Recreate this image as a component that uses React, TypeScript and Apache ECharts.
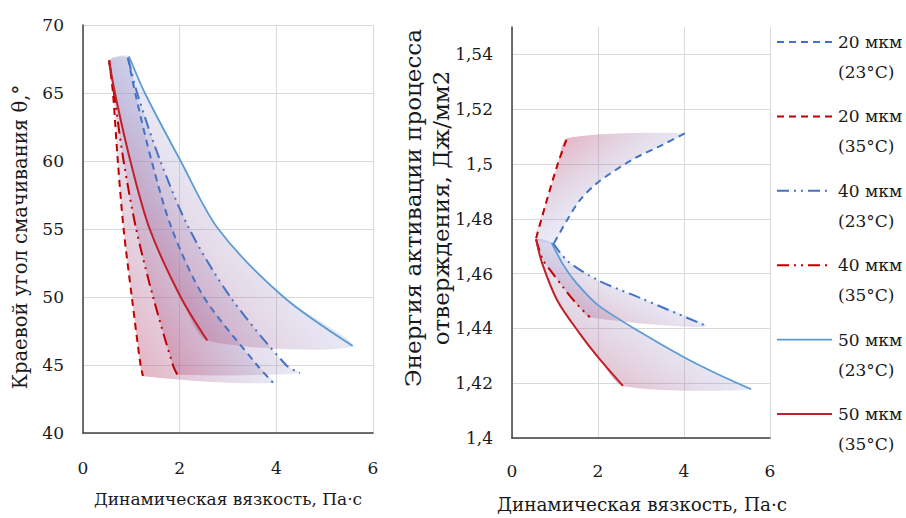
import React, { useEffect, useRef } from 'react';
import * as echarts from 'echarts';

// ---------- tick values ----------
const X_TICKS = [0, 2, 4, 6];
const THETA_TICKS = [40, 45, 50, 55, 60, 65, 70];
const ENERGY_TICKS = [1.4, 1.42, 1.44, 1.46, 1.48, 1.5, 1.52, 1.54];
const ENERGY_TOP = 1.55;

// ---------- series names / legend ----------
const SERIES_NAMES = ['20 мкм (23°C)', '20 мкм (35°C)', '40 мкм (23°C)', '40 мкм (35°C)', '50 мкм (23°C)', '50 мкм (35°C)'];
const LEGEND_LINE1 = ['20 мкм', '20 мкм', '40 мкм', '40 мкм', '50 мкм', '50 мкм'];
const LEGEND_LINE2 = ['(23°C)', '(35°C)', '(23°C)', '(35°C)', '(23°C)', '(35°C)'];

// ---------- left chart: contact angle θ vs viscosity ----------
const thetaX_20_23 = [0.93, 1.08, 1.42, 1.84, 2.5, 3.6, 3.93];
const thetaY_20_23 = [67.6, 65, 60, 55, 50, 45, 43.7];
const thetaX_20_35 = [0.54, 0.62, 0.72, 0.84, 1.01, 1.19, 1.24];
const thetaY_20_35 = [67.4, 65, 60, 55, 50, 45, 44.2];
const thetaX_40_23 = [0.93, 1.12, 1.6, 2.2, 3.05, 4.2, 4.49];
const thetaY_40_23 = [67.6, 65, 60, 55, 50, 45, 44.4];
const thetaX_40_35 = [0.54, 0.64, 0.84, 1.1, 1.45, 1.86, 1.95];
const thetaY_40_35 = [67.4, 65, 60, 55, 50, 45, 44.3];
const thetaX_50_23 = [0.95, 1.28, 2.02, 2.8, 4.15, 5.58];
const thetaY_50_23 = [67.7, 65, 60, 55, 50, 46.4];
const thetaX_50_35 = [0.54, 0.66, 0.98, 1.38, 2.02, 2.57];
const thetaY_50_35 = [67.4, 65, 60, 55, 50, 46.8];

// ---------- right chart: activation energy vs viscosity ----------
const energyX_20_23 = [0.98, 1.28, 1.58, 2.0, 2.81, 3.5, 4.02];
const energyY_20_23 = [1.4712, 1.4795, 1.4868, 1.4933, 1.5017, 1.507, 1.5112];
const energyX_20_35 = [0.56, 0.81, 1.07, 1.28];
const energyY_20_35 = [1.4729, 1.4868, 1.5003, 1.5094];
const energyX_40_23 = [0.95, 1.3, 2.0, 3.0, 4.53];
const energyY_40_23 = [1.4712, 1.4645, 1.4576, 1.451, 1.4408];
const energyX_40_35 = [0.56, 0.72, 0.95, 1.19, 1.5, 1.81];
const energyY_40_35 = [1.4725, 1.465, 1.46, 1.455, 1.449, 1.4441];
const energyX_50_23 = [0.92, 1.2, 1.5, 2.0, 3.0, 4.0, 4.8, 5.56];
const energyY_50_23 = [1.4712, 1.463, 1.4565, 1.4485, 1.4385, 1.4295, 1.4232, 1.4178];
const energyX_50_35 = [0.56, 0.7, 1.05, 1.58, 2.0, 2.58];
const energyY_50_35 = [1.4725, 1.4638, 1.4503, 1.438, 1.4295, 1.419];

const zip = (xs: number[], ys: number[]) => xs.map((x, i) => [x, ys[i]]);

const THETA_DATA = [
  zip(thetaX_20_23, thetaY_20_23),
  zip(thetaX_20_35, thetaY_20_35),
  zip(thetaX_40_23, thetaY_40_23),
  zip(thetaX_40_35, thetaY_40_35),
  zip(thetaX_50_23, thetaY_50_23),
  zip(thetaX_50_35, thetaY_50_35),
];
const ENERGY_DATA = [
  zip(energyX_20_23, energyY_20_23),
  zip(energyX_20_35, energyY_20_35),
  zip(energyX_40_23, energyY_40_23),
  zip(energyX_40_35, energyY_40_35),
  zip(energyX_50_23, energyY_50_23),
  zip(energyX_50_35, energyY_50_35),
];

const FONT = 'DejaVu Serif';
const TICK_FS = 17;
const TEXT_COLOR = '#1a1a1a';
const GRID_COLOR = '#d9d9d9';
const AXIS_COLOR = '#404040';

const DASH = [7, 5];
const DASH_DOT_DOT = [12, 5, 2, 5, 2, 5];
const LINE_STYLES: any[] = [
  { color: '#4472C4', type: DASH, width: 2 },
  { color: '#C00000', type: DASH, width: 2 },
  { color: '#4472C4', type: DASH_DOT_DOT, width: 2 },
  { color: '#C00000', type: DASH_DOT_DOT, width: 2 },
  { color: '#5B9BD5', type: 'solid', width: 1.75 },
  { color: '#C0202A', type: 'solid', width: 2 },
];

const fmtEnergy = (v: number) => {
  let s = v.toFixed(2);
  if (s.endsWith('0')) s = s.slice(0, -1);
  return s.replace('.', ',');
};

const gradient = (fromBottom: boolean) => ({
  type: 'linear',
  x: 0,
  y: fromBottom ? 1 : 0,
  x2: 1,
  y2: fromBottom ? 0 : 1,
  colorStops: [
    { offset: 0, color: 'rgba(200,45,80,0.45)' },
    { offset: 0.5, color: 'rgba(150,150,205,0.22)' },
    { offset: 1, color: 'rgba(255,255,255,0)' },
  ],
  global: false,
});

// band polygons: red curve (start→end), then blue curve (end→start)
const bandSeries = (gridIdx: number, red: number[][], blue: number[][], fromBottom: boolean) => ({
  type: 'custom',
  xAxisIndex: gridIdx,
  yAxisIndex: gridIdx,
  silent: true,
  z: 1,
  data: [[red[0][0], red[0][1]]],
  renderItem: (_params: any, api: any) => {
    const pts = [...red, ...blue.slice().reverse()].map((p) => api.coord(p));
    return {
      type: 'polygon',
      shape: { points: pts, smooth: 0.25 },
      style: { fill: gradient(fromBottom), stroke: 'none' },
    };
  },
});

const txt = (text: string, fontSize: number, extra: any = {}) => ({
  text,
  fontFamily: FONT,
  fontSize,
  fill: TEXT_COLOR,
  align: 'center',
  verticalAlign: 'middle',
  ...extra,
});

export default function App() {
  const ref = useRef<HTMLDivElement>(null);

  useEffect(() => {
    if (!ref.current) return;
    const chart = echarts.init(ref.current, undefined, { renderer: 'svg' });

    const lineSeries = (gridIdx: number, data: number[][][]) =>
      data.map((d, i) => ({
        type: 'line',
        name: SERIES_NAMES[i],
        xAxisIndex: gridIdx,
        yAxisIndex: gridIdx,
        data: d,
        smooth: 0.3,
        symbol: 'none',
        showSymbol: false,
        z: 3,
        lineStyle: LINE_STYLES[i],
        itemStyle: { color: LINE_STYLES[i].color },
      }));

    const xAxisCommon = (gridIndex: number, margin: number) => ({
      type: 'value',
      gridIndex,
      min: X_TICKS[0],
      max: X_TICKS[X_TICKS.length - 1],
      interval: X_TICKS[1] - X_TICKS[0],
      axisLine: { show: true, onZero: false, lineStyle: { color: AXIS_COLOR, width: 1.5 } },
      axisTick: { show: false },
      splitLine: { show: true, lineStyle: { color: GRID_COLOR, width: 1 } },
      axisLabel: { margin, fontFamily: FONT, fontSize: TICK_FS, color: TEXT_COLOR },
    });

    const legendGraphics: any[] = [];
    LEGEND_LINE1.forEach((t, i) => {
      const y = 42 + i * 74.4;
      const ls = LINE_STYLES[i];
      legendGraphics.push({
        type: 'line',
        shape: { x1: 777, y1: y, x2: 832, y2: y },
        style: { stroke: ls.color, lineWidth: ls.width, lineDash: Array.isArray(ls.type) ? ls.type : null },
      });
      legendGraphics.push({ type: 'text', x: 838, y, style: txt(t, 17, { align: 'left' }) });
      legendGraphics.push({ type: 'text', x: 838, y: y + 30, style: txt(LEGEND_LINE2[i], 17, { align: 'left' }) });
    });

    const option: any = {
      animation: false,
      backgroundColor: '#ffffff',
      textStyle: { fontFamily: FONT },
      grid: [
        { left: 83, top: 25, width: 290, height: 408 },
        { left: 512, top: 27, width: 258, height: 411 },
      ],
      xAxis: [xAxisCommon(0, 26), xAxisCommon(1, 24)],
      yAxis: [
        {
          type: 'value',
          gridIndex: 0,
          min: THETA_TICKS[0],
          max: THETA_TICKS[THETA_TICKS.length - 1],
          interval: THETA_TICKS[1] - THETA_TICKS[0],
          axisLine: { show: true, onZero: false, lineStyle: { color: AXIS_COLOR, width: 1.5 } },
          axisTick: { show: false },
          splitLine: { show: true, lineStyle: { color: GRID_COLOR, width: 1 } },
          axisLabel: { margin: 19, fontFamily: FONT, fontSize: TICK_FS, color: TEXT_COLOR },
        },
        {
          type: 'value',
          gridIndex: 1,
          min: ENERGY_TICKS[0],
          max: ENERGY_TOP,
          interval: 0.02,
          axisLine: { show: true, onZero: false, lineStyle: { color: AXIS_COLOR, width: 1.5 } },
          axisTick: { show: false },
          splitLine: { show: true, showMaxLine: false, lineStyle: { color: GRID_COLOR, width: 1 } },
          axisLabel: {
            margin: 19,
            fontFamily: FONT,
            fontSize: TICK_FS,
            color: TEXT_COLOR,
            showMaxLabel: false,
            formatter: (v: number) => fmtEnergy(v),
          },
        },
      ],
      graphic: [
        { type: 'text', x: 228, y: 499, style: txt('Динамическая вязкость, Па·с', 17) },
        { type: 'text', x: 642, y: 504, style: txt('Динамическая вязкость, Па·с', 18.4) },
        { type: 'text', x: 20, y: 237, rotation: Math.PI / 2, style: txt('Краевой угол смачивания θ,°', 19.6) },
        {
          type: 'text',
          x: 427,
          y: 208,
          rotation: Math.PI / 2,
          style: txt('Энергия активации процесса\nотверждения, Дж/мм2', 23, { lineHeight: 28 }),
        },
        ...legendGraphics,
      ],
      series: [
        bandSeries(0, THETA_DATA[1], THETA_DATA[0], true),
        bandSeries(0, THETA_DATA[3], THETA_DATA[2], true),
        bandSeries(0, THETA_DATA[5], THETA_DATA[4], true),
        bandSeries(1, ENERGY_DATA[1], ENERGY_DATA[0], false),
        bandSeries(1, ENERGY_DATA[3], ENERGY_DATA[2], true),
        bandSeries(1, ENERGY_DATA[5], ENERGY_DATA[4], true),
        ...lineSeries(0, THETA_DATA),
        ...lineSeries(1, ENERGY_DATA),
      ],
    };

    chart.setOption(option);
    return () => chart.dispose();
  }, []);

  return <div ref={ref} style={{ position: 'fixed', left: 0, top: 0, width: 906, height: 518 }} />;
}
